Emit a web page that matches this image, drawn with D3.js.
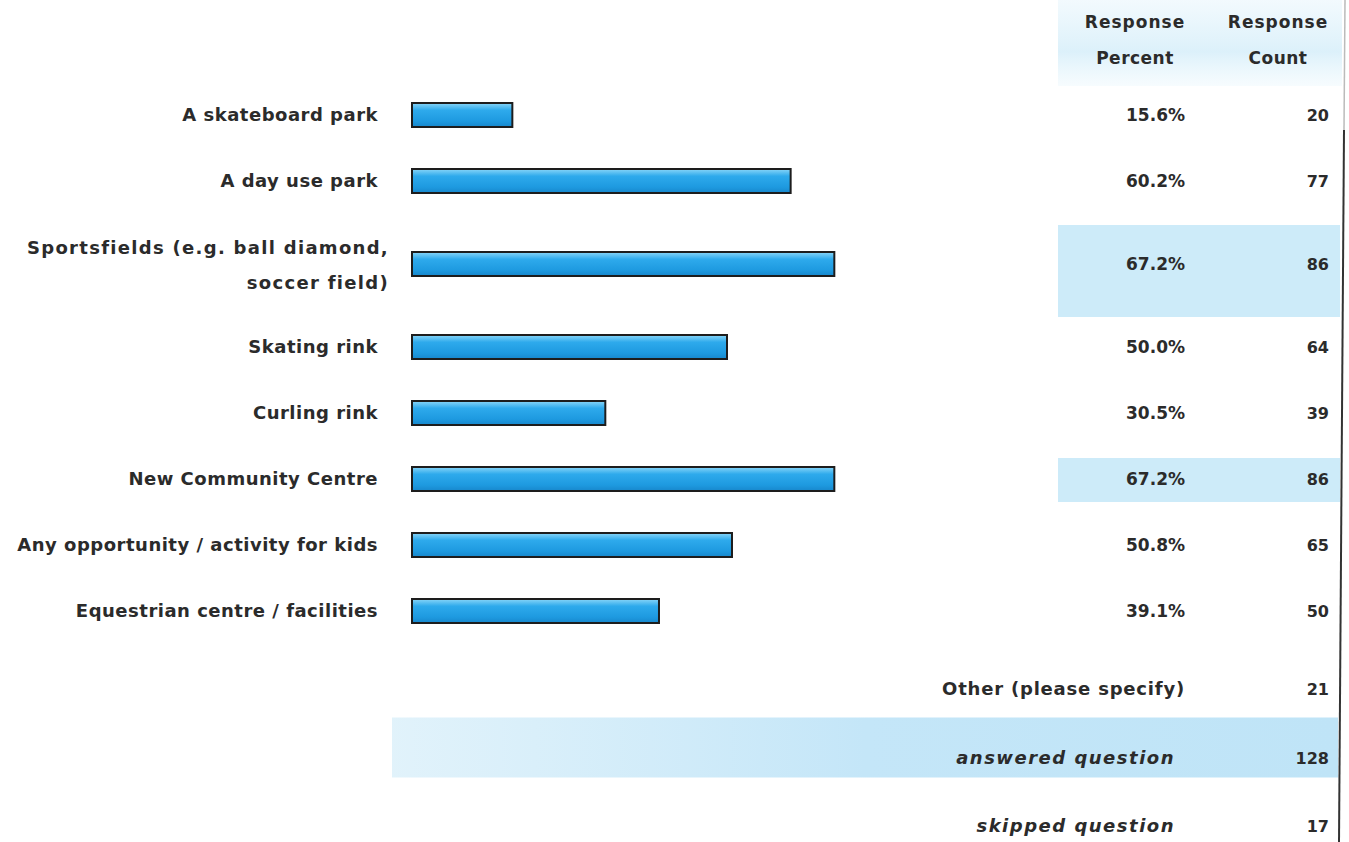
<html>
<head>
<title>Survey responses</title>
<script src="https://d3js.org/d3.v7.min.js"></script>
<style type="text/css">
	body { margin: 0; background: #fff; }
	text { font-family: "DejaVu Sans", sans-serif; font-weight: bold; fill: #2b2b2b; }
</style>
</head>
<body>
<div id="chart"></div>
<script type="text/javascript">
// survey answers
var categories = [
	["A skateboard park"],
	["A day use park"],
	["Sportsfields (e.g. ball diamond,", "soccer field)"],
	["Skating rink"],
	["Curling rink"],
	["New Community Centre"],
	["Any opportunity / activity for kids"],
	["Equestrian centre / facilities"]
];
var percents = [15.6, 60.2, 67.2, 50.0, 30.5, 67.2, 50.8, 39.1];
var counts = [20, 77, 86, 64, 39, 86, 65, 50];
var highlighted = [false, false, true, false, false, true, false, false];

var footLabels = ["Other (please specify)", "answered question", "skipped question"];
var footCounts = [21, 128, 17];

var headers = [["Response", "Percent"], ["Response", "Count"]];

var W = 1349, H = 842;
var svg = d3.select("#chart").append("svg")
	.attr("width", W)
	.attr("height", H);

var defs = svg.append("defs");
var barGrad = defs.append("linearGradient").attr("id", "barGrad")
	.attr("x1", 0).attr("y1", 0).attr("x2", 0).attr("y2", 1);
barGrad.append("stop").attr("offset", "0%").attr("stop-color", "#8ad6f8");
barGrad.append("stop").attr("offset", "30%").attr("stop-color", "#2eaaec");
barGrad.append("stop").attr("offset", "75%").attr("stop-color", "#1e9ae0");
barGrad.append("stop").attr("offset", "100%").attr("stop-color", "#1787cc");

var headGrad = defs.append("linearGradient").attr("id", "headGrad")
	.attr("x1", 0).attr("y1", 0).attr("x2", 0).attr("y2", 1);
headGrad.append("stop").attr("offset", "0%").attr("stop-color", "#dff2fb").attr("stop-opacity", 0.4);
headGrad.append("stop").attr("offset", "60%").attr("stop-color", "#d8effa").attr("stop-opacity", 0.9);
headGrad.append("stop").attr("offset", "100%").attr("stop-color", "#e3f4fc").attr("stop-opacity", 0.3);

var ansGrad = defs.append("linearGradient").attr("id", "ansGrad")
	.attr("x1", 0).attr("y1", 0).attr("x2", 1).attr("y2", 0);
ansGrad.append("stop").attr("offset", "0%").attr("stop-color", "#cdeaf8").attr("stop-opacity", 0.6);
ansGrad.append("stop").attr("offset", "50%").attr("stop-color", "#c4e6f8");
ansGrad.append("stop").attr("offset", "100%").attr("stop-color", "#bfe4f7");

// row layout: every row 66px, two-line rows 100px
var rowH = categories.map(function(c) { return c.length > 1 ? 100 : 66; });
var centers = [];
var acc = 82;
rowH.forEach(function(h) { centers.push(acc + h / 2); acc += h; });

var x = d3.scaleLinear().domain([0, 100]).range([415, 1039]);
var footY = d3.scalePoint().domain(footLabels).range([689, 826]);

var pctX = 1185, cntX = 1329, labelX = 378;

// header background
svg.append("rect")
	.attr("x", 1058).attr("y", 0)
	.attr("width", 284).attr("height", 86)
	.style("fill", "url(#headGrad)");

var rows = svg.selectAll(".row")
	.data(categories)
	.enter().append("g")
	.attr("class", "row")
	.attr("transform", function(d, i) { return "translate(0," + centers[i] + ")"; });

// highlighted rows
rows.filter(function(d, i) { return highlighted[i]; })
	.append("rect")
	.attr("x", 1058)
	.attr("y", function(d) { return d.length > 1 ? -39 : -21; })
	.attr("width", 282)
	.attr("height", function(d) { return d.length > 1 ? 92 : 44; })
	.style("fill", "#cdebf9");

svg.append("rect")
	.attr("x", 392).attr("y", footY("answered question") - 40)
	.attr("width", 946).attr("height", 60)
	.style("fill", "url(#ansGrad)");

// header text
headers.forEach(function(h, i) {
	var cx = i === 0 ? 1135 : 1278;
	svg.append("text")
		.attr("text-anchor", "middle")
		.style("font-size", "17px")
		.selectAll("tspan")
		.data(h)
		.enter().append("tspan")
		.attr("x", cx)
		.attr("y", function(d, j) { return 28 + j * 36; })
		.style("letter-spacing", function(d, j) { return j === 0 ? "1px" : "0.5px"; })
		.text(function(d) { return d; });
});

// category labels
rows.append("text")
	.attr("text-anchor", "end")
	.style("font-size", "18px")
	.style("letter-spacing", function(d) { return d.length > 1 ? "1.3px" : "0.5px"; })
	.selectAll("tspan")
	.data(function(d) { return d.map(function(t, j) { return {t: t, j: j, n: d.length}; }); })
	.enter().append("tspan")
	.attr("x", function(d) { return d.n > 1 ? labelX + 11 : labelX; })
	.attr("y", function(d) { return d.n > 1 ? -10 + d.j * 35 : 6; })
	.text(function(d) { return d.t; });

// bars
rows.append("rect")
	.attr("x", x(0) - 3)
	.attr("y", -12)
	.attr("width", function(d, i) { return x(percents[i]) - x(0) + 3; })
	.attr("height", 24)
	.style("fill", "url(#barGrad)")
	.style("stroke", "#1d1d1d")
	.style("stroke-width", 2);

// percent and count columns
rows.append("text")
	.attr("x", pctX)
	.attr("y", 6)
	.attr("text-anchor", "end")
	.style("font-size", "17px")
	.text(function(d, i) { return percents[i].toFixed(1) + "%"; });

rows.append("text")
	.attr("x", cntX)
	.attr("y", 6)
	.attr("text-anchor", "end")
	.style("font-size", "16px")
	.text(function(d, i) { return counts[i]; });

// footer rows
var foot = svg.selectAll(".foot")
	.data(footLabels)
	.enter().append("g")
	.attr("class", "foot")
	.attr("transform", function(d) { return "translate(0," + footY(d) + ")"; });

foot.append("text")
	.attr("x", function(d, i) { return i === 0 ? pctX : pctX - 10; })
	.attr("y", 6)
	.attr("text-anchor", "end")
	.style("font-size", "18px")
	.style("font-style", function(d, i) { return i === 0 ? "normal" : "italic"; })
	.style("letter-spacing", function(d, i) { return i === 0 ? "0.8px" : "1.5px"; })
	.text(function(d) { return d; });

foot.append("text")
	.attr("x", cntX)
	.attr("y", 6)
	.attr("text-anchor", "end")
	.style("font-size", "16px")
	.text(function(d, i) { return footCounts[i]; });

// right border
svg.append("line")
	.attr("x1", 1345).attr("x2", 1344)
	.attr("y1", 0).attr("y2", 130)
	.style("stroke", "#bbb")
	.style("stroke-width", 1.5);
svg.append("line")
	.attr("x1", 1344).attr("x2", 1339)
	.attr("y1", 130).attr("y2", H)
	.style("stroke", "#333")
	.style("stroke-width", 2);
</script>
</body>
</html>
